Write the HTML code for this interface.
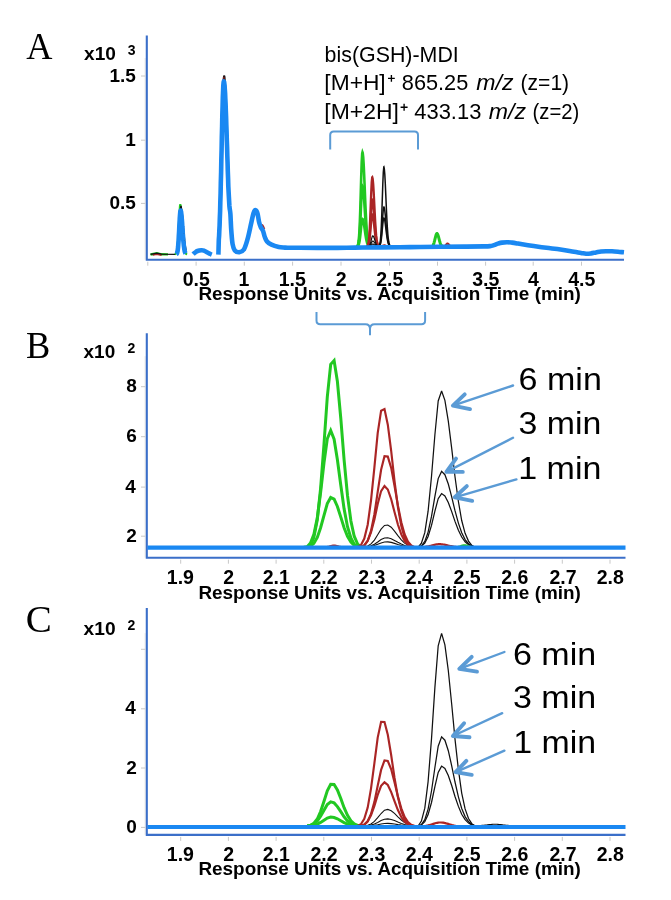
<!DOCTYPE html>
<html><head><meta charset="utf-8"><title>Chromatograms</title>
<style>html,body{margin:0;padding:0;background:#fff;width:671px;height:900px;overflow:hidden}svg{display:block;will-change:transform}</style>
</head><body>
<svg width="671" height="900" viewBox="0 0 671 900">
<rect width="671" height="900" fill="#fff"/>
<line x1="145.1" y1="58" x2="145.1" y2="259.7" stroke="#ebe8e3" stroke-width="1"/>
<path d="M146.8,35.4 V259.7 H624" fill="none" stroke="#3b6fc9" stroke-width="2.1"/>
<line x1="141" y1="76" x2="145.5" y2="76" stroke="#c8c8c8" stroke-width="1"/>
<line x1="141" y1="140.2" x2="145.5" y2="140.2" stroke="#c8c8c8" stroke-width="1"/>
<line x1="141" y1="203.4" x2="145.5" y2="203.4" stroke="#c8c8c8" stroke-width="1"/>
<text x="109.45" y="81.6" font-family="Liberation Sans" font-size="19" font-weight="bold" fill="#000">1.5</text>
<text x="125.30" y="145.8" font-family="Liberation Sans" font-size="19" font-weight="bold" fill="#000">1</text>
<text x="109.45" y="209" font-family="Liberation Sans" font-size="19" font-weight="bold" fill="#000">0.5</text>
<line x1="147.8" y1="261.7" x2="147.8" y2="265.7" stroke="#c8c8c8" stroke-width="1"/>
<line x1="196.1" y1="261.7" x2="196.1" y2="265.7" stroke="#c8c8c8" stroke-width="1"/>
<text x="182.77" y="286" font-family="Liberation Sans" font-size="19.5" font-weight="bold" fill="#000">0.5</text>
<line x1="244.3" y1="261.7" x2="244.3" y2="265.7" stroke="#c8c8c8" stroke-width="1"/>
<text x="238.60" y="286" font-family="Liberation Sans" font-size="19.5" font-weight="bold" fill="#000">1</text>
<line x1="292.6" y1="261.7" x2="292.6" y2="265.7" stroke="#c8c8c8" stroke-width="1"/>
<text x="278.77" y="286" font-family="Liberation Sans" font-size="19.5" font-weight="bold" fill="#000">1.5</text>
<line x1="341" y1="261.7" x2="341" y2="265.7" stroke="#c8c8c8" stroke-width="1"/>
<text x="335.80" y="286" font-family="Liberation Sans" font-size="19.5" font-weight="bold" fill="#000">2</text>
<line x1="389.5" y1="261.7" x2="389.5" y2="265.7" stroke="#c8c8c8" stroke-width="1"/>
<text x="376.17" y="286" font-family="Liberation Sans" font-size="19.5" font-weight="bold" fill="#000">2.5</text>
<line x1="437.5" y1="261.7" x2="437.5" y2="265.7" stroke="#c8c8c8" stroke-width="1"/>
<text x="432.30" y="286" font-family="Liberation Sans" font-size="19.5" font-weight="bold" fill="#000">3</text>
<line x1="485.6" y1="261.7" x2="485.6" y2="265.7" stroke="#c8c8c8" stroke-width="1"/>
<text x="472.27" y="286" font-family="Liberation Sans" font-size="19.5" font-weight="bold" fill="#000">3.5</text>
<line x1="533.2" y1="261.7" x2="533.2" y2="265.7" stroke="#c8c8c8" stroke-width="1"/>
<text x="528.00" y="286" font-family="Liberation Sans" font-size="19.5" font-weight="bold" fill="#000">4</text>
<line x1="581.5" y1="261.7" x2="581.5" y2="265.7" stroke="#c8c8c8" stroke-width="1"/>
<text x="568.17" y="286" font-family="Liberation Sans" font-size="19.5" font-weight="bold" fill="#000">4.5</text>
<text x="198.45" y="300.3" font-family="Liberation Sans" font-size="17.9" font-weight="bold" textLength="382.41" lengthAdjust="spacingAndGlyphs" fill="#000">Response Units vs. Acquisition Time (min)</text>
<text x="26.20" y="59.4" font-family="Liberation Serif" font-size="38.5" textLength="26.21" lengthAdjust="spacingAndGlyphs" fill="#000">A</text>
<text x="84.10" y="60.2" font-family="Liberation Sans" font-size="18.5" font-weight="bold" textLength="31.80" lengthAdjust="spacingAndGlyphs" fill="#000">x10</text>
<text x="127.70" y="54.5" font-family="Liberation Sans" font-size="14" font-weight="bold" fill="#000">3</text>
<text x="324.61" y="61.5" font-family="Liberation Sans" font-size="21.5" textLength="134.16" lengthAdjust="spacingAndGlyphs" fill="#000">bis(GSH)-MDI</text>
<text x="324.34" y="90" font-family="Liberation Sans" font-size="21.5" textLength="61.39" lengthAdjust="spacingAndGlyphs" fill="#000">[M+H]</text>
<path d="M388,78.3 H394.8 M391.4,74.9 V81.8" stroke="#000" stroke-width="1.35" fill="none"/>
<text x="401.80" y="90" font-family="Liberation Sans" font-size="21.5" textLength="66.46" lengthAdjust="spacingAndGlyphs" fill="#000">865.25</text>
<text x="476.30" y="90" font-family="Liberation Sans" font-size="21.5" font-style="italic" textLength="37.23" lengthAdjust="spacingAndGlyphs" fill="#000">m/z</text>
<text x="520.52" y="90" font-family="Liberation Sans" font-size="21.5" textLength="48.62" lengthAdjust="spacingAndGlyphs" fill="#000">(z=1)</text>
<text x="324.33" y="119.2" font-family="Liberation Sans" font-size="21.5" textLength="74.61" lengthAdjust="spacingAndGlyphs" fill="#000">[M+2H]</text>
<path d="M400.6,107.2 H407.6 M404.1,103.7 V110.8" stroke="#000" stroke-width="1.35" fill="none"/>
<text x="414.30" y="119.2" font-family="Liberation Sans" font-size="21.5" textLength="67.06" lengthAdjust="spacingAndGlyphs" fill="#000">433.13</text>
<text x="488.80" y="119.2" font-family="Liberation Sans" font-size="21.5" font-style="italic" textLength="37.23" lengthAdjust="spacingAndGlyphs" fill="#000">m/z</text>
<text x="532.56" y="119.2" font-family="Liberation Sans" font-size="21.5" textLength="46.74" lengthAdjust="spacingAndGlyphs" fill="#000">(z=2)</text>
<path d="M330.2,149.5 V135 Q330.2,131.5 333.7,131.5 H414.5 Q418,131.5 418,135 V149.5" fill="none" stroke="#5b9bd5" stroke-width="2"/>
<path d="M316.5,312 V320.5 Q316.5,324.2 320.2,324.2 H365.5 Q370,324.2 370,329 V335.2 M370,329 Q370,324.2 374.5,324.2 H421.4 Q425.1,324.2 425.1,320.5 V312" fill="none" stroke="#5b9bd5" stroke-width="2"/>
<path d="M150.5,254.5 L152,254.2 L156.8,253.2 L161.6,254.3 L168,254.4" stroke="#22c822" stroke-width="2.4" fill="none"/>
<path d="M152.7,254.9 L156.8,254 L161.6,255.1" stroke="#aa2525" stroke-width="1.8" fill="none"/>
<path d="M150.5,254.4 L156.8,253.2 L161.6,254.2 L176,254.4" stroke="#111" stroke-width="1.3" fill="none"/>
<path d="M174.9,254.3 L175.9,253.7 L176.9,250.6 L177.9,240.4 L178.9,221.9 L179.9,206 L180.3,204.2 L180.9,206.6 L181.9,219.2 L182.9,234.7 L183.9,246.1 L184.9,251.7 L185.9,253.7 L186.9,254.3 L187.1,254.4" stroke="#22c822" stroke-width="2" fill="none"/>
<path d="M180,215.4 L180.9,206.5 L181,206.5 L182,211.7 L183,222.8 L184,235.1 L185,244.6 L186,250.3" stroke="#111" stroke-width="1.6" fill="none"/>
<path d="M221.5,165.5 L222.5,117.1 L223.5,82.1 L224.1,75.6 L224.5,76.9 L225.5,91 L226.5,117.1 L227.5,149.2" stroke="#111" stroke-width="2" fill="none"/>
<path d="M221,170.8 L222,122.6 L223,85.6 L223.7,76.8 L224,77.5 L225,90.1 L226,115.1" stroke="#6a1c1c" stroke-width="1.5" fill="none"/>
<path d="M356.7,246.4 L357.2,246.1 L357.7,245.4 L358.2,243.8 L358.7,240.5 L359.2,234.7 L359.7,225.2 L360.2,211.8 L360.7,195.1 L361.2,177.4 L361.7,162.3 L362.2,153.5 L362.5,152.3 L362.7,152.8 L363.2,157.1 L363.7,165 L364.2,175.7 L364.7,187.9 L365.2,200.2 L365.7,211.6 L366.2,221.4 L366.7,229.3 L367.2,235.2 L367.7,239.5 L368.2,242.3 L368.7,244.1 L369.2,245.2 L369.7,245.8 L370.2,246.2 L370.7,246.3 L370.8,246.5" stroke="#22c822" stroke-width="2.6" fill="none"/>
<path d="M356.7,246.4 L357.2,246.2 L357.7,245.8 L358.2,244.8 L358.7,242.7 L359.2,238.9 L359.7,232.8 L360.2,224.2 L360.7,213.5 L361.2,202.1 L361.7,192.5 L362.2,186.8 L362.5,186 L362.7,186.3 L363.2,189.1 L363.7,194.2 L364.2,201.1 L364.7,208.8 L365.2,216.7 L365.7,224.1 L366.2,230.4 L366.7,235.4 L367.2,239.3 L367.7,242 L368.2,243.8 L368.7,245 L369.2,245.7 L369.7,246.1 L370.2,246.3 L370.7,246.4 L370.8,246.5" stroke="#22c822" stroke-width="2.6" fill="none"/>
<path d="M356.7,246.5 L357.2,246.4 L357.7,246.2 L358.2,245.7 L358.7,244.8 L359.2,243 L359.7,240.3 L360.2,236.4 L360.7,231.5 L361.2,226.3 L361.7,221.9 L362.2,219.4 L362.5,219 L362.7,219.1 L363.2,220.4 L363.7,222.7 L364.2,225.8 L364.7,229.4 L365.2,233 L365.7,236.3 L366.2,239.2 L366.7,241.5 L367.2,243.2 L367.7,244.4 L368.2,245.3 L368.7,245.8 L369.2,246.1 L369.7,246.3 L370.2,246.4 L370.7,246.5 L370.8,246.5" stroke="#22c822" stroke-width="2.6" fill="none"/>
<path d="M366.7,246.4 L367.2,246.2 L367.7,245.6 L368.2,244.3 L368.7,241.7 L369.2,236.9 L369.7,229.2 L370.2,218.4 L370.7,205.3 L371.2,192.2 L371.7,182 L372.2,177.4 L372.3,177.3 L372.7,178.7 L373.2,183.9 L373.7,192.1 L374.2,201.9 L374.7,212 L375.2,221.4 L375.7,229.3 L376.2,235.4 L376.7,239.7 L377.2,242.6 L377.7,244.4 L378.2,245.4 L378.7,246 L379.2,246.3 L379.7,246.5" stroke="#aa2525" stroke-width="2.3" fill="none"/>
<path d="M366.7,246.4 L367.2,246.3 L367.7,245.9 L368.2,245 L368.7,243.3 L369.2,240 L369.7,234.9 L370.2,227.6 L370.7,218.8 L371.2,210 L371.7,203.1 L372.2,200.1 L372.3,200 L372.7,201 L373.2,204.5 L373.7,209.9 L374.2,216.5 L374.7,223.3 L375.2,229.6 L375.7,234.9 L376.2,239 L376.7,242 L377.2,243.9 L377.7,245.1 L378.2,245.8 L378.7,246.2 L379.2,246.3 L379.7,246.5" stroke="#aa2525" stroke-width="2.3" fill="none"/>
<path d="M366.7,246.5 L367.2,246.4 L367.7,246.1 L368.2,245.5 L368.7,244.3 L369.2,242.1 L369.7,238.5 L370.2,233.5 L370.7,227.5 L371.2,221.4 L371.7,216.7 L372.2,214.5 L372.3,214.5 L372.7,215.2 L373.2,217.6 L373.7,221.3 L374.2,225.9 L374.7,230.6 L375.2,234.9 L375.7,238.5 L376.2,241.4 L376.7,243.4 L377.2,244.7 L377.7,245.5 L378.2,246 L378.7,246.3 L379.2,246.4 L379.7,246.5" stroke="#aa2525" stroke-width="2.3" fill="none"/>
<path d="M367.4,246.5 L367.9,246.4 L368.4,246.4 L368.9,246.1 L369.4,245.7 L369.9,244.8 L370.4,243.5 L370.9,241.7 L371.4,239.6 L371.9,237.6 L372.4,236.2 L372.8,235.8 L372.9,235.8 L373.4,236.3 L373.9,237.3 L374.4,238.7 L374.9,240.3 L375.4,241.9 L375.9,243.3 L376.4,244.4 L376.9,245.2 L377.4,245.7 L377.9,246.1 L378.4,246.3 L378.9,246.4 L379.4,246.5 L379.9,246.5 L380,246.5" stroke="#111" stroke-width="1.2" fill="none"/>
<path d="M367.4,246.5 L367.9,246.5 L368.4,246.4 L368.9,246.3 L369.4,246.1 L369.9,245.7 L370.4,245 L370.9,244 L371.4,242.9 L371.9,241.9 L372.4,241.2 L372.8,241 L372.9,241 L373.4,241.2 L373.9,241.8 L374.4,242.5 L374.9,243.3 L375.4,244.1 L375.9,244.8 L376.4,245.4 L376.9,245.8 L377.4,246.1 L377.9,246.3 L378.4,246.4 L378.9,246.4 L379.4,246.5 L379.9,246.5 L380,246.5" stroke="#111" stroke-width="1.2" fill="none"/>
<path d="M367.4,246.5 L367.9,246.5 L368.4,246.5 L368.9,246.4 L369.4,246.3 L369.9,246.1 L370.4,245.8 L370.9,245.4 L371.4,244.9 L371.9,244.4 L372.4,244.1 L372.8,244 L372.9,244 L373.4,244.1 L373.9,244.4 L374.4,244.7 L374.9,245.1 L375.4,245.4 L375.9,245.7 L376.4,246 L376.9,246.2 L377.4,246.3 L377.9,246.4 L378.4,246.5 L378.9,246.5 L379.4,246.5 L379.9,246.5 L380,246.5" stroke="#111" stroke-width="1.2" fill="none"/>
<path d="M378.8,246.5 L379.3,246.5 L379.8,246.5 L380.3,246.4 L380.8,246.4 L381.3,246.3 L381.8,246.1 L382.3,245.8 L382.8,245.5 L383.3,245.2 L383.8,245.1 L384.2,245 L384.3,245 L384.8,245.1 L385.3,245.2 L385.8,245.4 L386.3,245.6 L386.8,245.9 L387.3,246 L387.8,246.2 L388.3,246.3 L388.8,246.4 L389.3,246.4 L389.8,246.5 L390.3,246.5 L390.8,246.5 L391.3,246.5 L391.4,246.5" stroke="#aa2525" stroke-width="1.6" fill="none"/>
<path d="M378.3,246.4 L378.8,246.1 L379.3,245.5 L379.8,244 L380.3,241 L380.8,235.4 L381.3,226.6 L381.8,214.1 L382.3,199.1 L382.8,184 L383.3,172.2 L383.8,166.9 L383.9,166.8 L384.3,168.5 L384.8,174.4 L385.3,183.8 L385.8,195.1 L386.3,206.8 L386.8,217.6 L387.3,226.7 L387.8,233.7 L388.3,238.7 L388.8,242 L389.3,244.1 L389.8,245.3 L390.3,245.9 L390.8,246.2 L391.3,246.5" stroke="#111" stroke-width="1.5" fill="none"/>
<path d="M378.3,246.4 L378.8,246.3 L379.3,246 L379.8,245.3 L380.3,243.8 L380.8,241 L381.3,236.6 L381.8,230.4 L382.3,223 L382.8,215.5 L383.3,209.7 L383.8,207.1 L383.9,207 L384.3,207.8 L384.8,210.8 L385.3,215.4 L385.8,221 L386.3,226.8 L386.8,232.2 L387.3,236.7 L387.8,240.2 L388.3,242.6 L388.8,244.3 L389.3,245.3 L389.8,245.9 L390.3,246.2 L390.8,246.4 L391.3,246.5" stroke="#111" stroke-width="1.5" fill="none"/>
<path d="M378.3,246.5 L378.8,246.4 L379.3,246.1 L379.8,245.6 L380.3,244.5 L380.8,242.5 L381.3,239.4 L381.8,234.9 L382.3,229.5 L382.8,224.1 L383.3,219.9 L383.8,218 L383.9,218 L384.3,218.6 L384.8,220.7 L385.3,224.1 L385.8,228.1 L386.3,232.3 L386.8,236.2 L387.3,239.4 L387.8,241.9 L388.3,243.7 L388.8,244.9 L389.3,245.6 L389.8,246.1 L390.3,246.3 L390.8,246.4 L391.3,246.5" stroke="#111" stroke-width="1.5" fill="none"/>
<path d="M430.1,247 L430.6,246.9 L431.1,246.9 L431.6,246.7 L432.1,246.5 L432.6,246 L433.1,245.3 L433.6,244.1 L434.1,242.6 L434.6,240.7 L435.1,238.6 L435.6,236.6 L436.1,234.8 L436.6,233.8 L436.9,233.6 L437.1,233.6 L437.6,234.2 L438.1,235.5 L438.6,237.2 L439.1,239.1 L439.6,241 L440.1,242.7 L440.6,244.1 L441.1,245.1 L441.6,245.9 L442.1,246.3 L442.6,246.6 L443.1,246.8 L443.6,246.9 L444.1,247 L444.5,247" stroke="#22c822" stroke-width="3" fill="none"/>
<path d="M441.7,247 L442.2,247 L442.7,247 L443.2,246.9 L443.7,246.8 L444.2,246.6 L444.7,246.2 L445.2,245.7 L445.7,245.1 L446.2,244.5 L446.7,244 L447.2,243.6 L447.5,243.6 L447.7,243.6 L448.2,243.9 L448.7,244.3 L449.2,244.9 L449.7,245.4 L450.2,245.9 L450.7,246.3 L451.2,246.6 L451.7,246.8 L452.2,246.9 L452.7,247 L453.2,247 L453.7,247 L454,247" stroke="#aa2525" stroke-width="2" fill="none"/>
<path d="M262,224.5 Q263.5,226.5 264.3,229" stroke="#aa2525" stroke-width="2" fill="none"/>
<path d="M176.3,254.2 L176.6,254 L176.8,253.7 L177.1,253.1 L177.3,252.3 L177.6,251.1 L177.8,249.4 L178.1,247.1 L178.3,244.2 L178.6,240.6 L178.8,236.4 L179.1,231.7 L179.3,226.8 L179.6,222 L179.8,217.6 L180.1,214 L180.3,211.6 L180.6,210.5 L180.8,210.8 L181.1,211.9 L181.3,213.7 L181.6,216.2 L181.8,219.3 L182.1,222.7 L182.3,226.3 L182.6,230 L182.8,233.7 L183.1,237.1 L183.3,240.2 L183.6,243 L183.8,245.4 L184.1,247.5 L184.3,249.2 L184.6,250.5 L184.8,251.6 L185.1,252.4 L185.3,253 L185.6,253.5" stroke="#1a88f2" stroke-width="4.6" fill="none" stroke-linejoin="round" stroke-linecap="butt"/>
<path d="M193.1,254.1 C193.4,253.8 194.3,253.1 195,252.6 C195.7,252.1 196.4,251.4 197.5,251 C198.6,250.6 200.3,250.3 201.4,250.2 C202.5,250.1 203.2,250.3 204,250.6 C204.8,250.9 205.7,251.6 206.5,252 C207.3,252.4 208.1,252.9 209,253.3 C209.9,253.7 211.3,254.4 211.8,254.6" stroke="#1a88f2" stroke-width="4.6" fill="none" stroke-linejoin="round" stroke-linecap="butt"/>
<path d="M218.4,254.6 L218.8,239.8 L219.1,235.8 L219.3,231 L219.6,225.3 L219.8,218.8 L220.1,211.3 L220.3,202.8 L220.6,193.4 L220.8,183.3 L221.1,172.4 L221.3,161.1 L221.6,149.5 L221.8,137.9 L222.1,126.6 L222.3,115.9 L222.6,106.1 L222.8,97.7 L223.1,90.7 L223.3,85.6 L223.6,82.5 L223.8,81.4 L224.1,81.9 L224.3,83.4 L224.6,85.8 L224.8,89.2 L225.1,93.4 L225.3,98.4 L225.6,104.1 L225.8,110.4 L226.1,117.3 L226.3,124.6 L226.6,132.1 L226.8,140 L227.1,147.9 L227.3,155.8 L227.6,163.7 L227.8,171.4 L228.1,178.9 L228.3,186.1 L228.3,186.1 C228.5,189.4 229.1,201.4 229.4,206 C229.8,210.6 230.1,209.9 230.4,214 C230.7,218.1 230.9,225.8 231.3,230.8 C231.7,235.8 232,240.9 232.6,244.2 C233.2,247.5 233.7,249.2 234.8,250.5 C235.9,251.8 237.8,252.3 239.3,252.2 C240.8,252 242.5,251.7 243.8,249.6 C245.2,247.5 246.2,243.9 247.4,239.7 C248.6,235.5 249.9,229 250.9,224.5 C251.9,220 252.8,215.3 253.6,212.9 C254.4,210.5 255.2,210 255.9,210.2 C256.6,210.3 257.1,211.9 257.6,213.8 C258.1,215.7 258.5,219.6 259,221.8 C259.5,224 260.1,225.7 260.8,227.2 C261.5,228.7 262.3,229.2 263,230.8 C263.7,232.4 264.1,235.2 264.8,237 C265.5,238.8 265.9,240.2 267,241.5 C268.1,242.8 269.6,243.7 271.5,244.6 C273.4,245.5 276.4,246.4 278.7,246.9 C280.9,247.4 282.8,247.4 285,247.6 C287.2,247.8 289.5,247.8 292,247.8 C294.5,247.8 293.7,247.8 300,247.8 C306.3,247.8 320.8,247.9 330,247.9 C339.2,247.9 346.7,247.7 355,247.6 C363.3,247.5 370.8,247.5 380,247.4 C389.2,247.3 400,247.2 410,247.1 C420,247 430.8,246.9 440,246.8 C449.2,246.7 457.7,246.7 465,246.6 C472.3,246.5 479.8,246.5 484,246.4 C488.2,246.3 488.3,246.3 490,246.1 C491.7,245.9 492.7,245.5 494,245.1 C495.3,244.7 496.7,244 498,243.6 C499.3,243.2 500.5,242.8 502,242.6 C503.5,242.4 505.3,242.2 507,242.2 C508.7,242.2 510.2,242.4 512,242.6 C513.8,242.8 515.3,243.1 518,243.6 C520.7,244.1 524.3,244.7 528,245.3 C531.7,245.9 536,246.5 540,247 C544,247.5 548.3,248.1 552,248.5 C555.7,248.9 558.3,249.2 562,249.7 C565.7,250.2 570.8,251.2 574,251.7 C577.2,252.2 579,252.6 581,252.9 C583,253.2 584.3,253.6 586,253.7 C587.7,253.8 589.3,253.6 591,253.4 C592.7,253.2 594.3,252.7 596,252.4 C597.7,252.1 599.3,251.7 601,251.5 C602.7,251.3 604.2,251.2 606,251.2 C607.8,251.2 610,251.2 612,251.3 C614,251.4 616,251.6 618,251.8 C620,252 623,252.2 624,252.3" stroke="#1a88f2" stroke-width="4.6" fill="none" stroke-linejoin="round" stroke-linecap="butt"/>
<line x1="145.1" y1="356.2" x2="145.1" y2="557.7" stroke="#ebe8e3" stroke-width="1"/>
<path d="M146.8,333.3 V557.7 H625.5" fill="none" stroke="#3b6fc9" stroke-width="2.1"/>
<line x1="141" y1="386.7" x2="145.5" y2="386.7" stroke="#c8c8c8" stroke-width="1"/>
<line x1="141" y1="436.7" x2="145.5" y2="436.7" stroke="#c8c8c8" stroke-width="1"/>
<line x1="141" y1="487.1" x2="145.5" y2="487.1" stroke="#c8c8c8" stroke-width="1"/>
<line x1="141" y1="536.2" x2="145.5" y2="536.2" stroke="#c8c8c8" stroke-width="1"/>
<text x="126.30" y="392.3" font-family="Liberation Sans" font-size="19" font-weight="bold" fill="#000">8</text>
<text x="126.30" y="442.3" font-family="Liberation Sans" font-size="19" font-weight="bold" fill="#000">6</text>
<text x="125.30" y="492.7" font-family="Liberation Sans" font-size="19" font-weight="bold" fill="#000">4</text>
<text x="126.30" y="541.8" font-family="Liberation Sans" font-size="19" font-weight="bold" fill="#000">2</text>
<line x1="180.7" y1="559.7" x2="180.7" y2="563.7" stroke="#c8c8c8" stroke-width="1"/>
<text x="166.87" y="584" font-family="Liberation Sans" font-size="19.5" font-weight="bold" fill="#000">1.9</text>
<line x1="228.4" y1="559.7" x2="228.4" y2="563.7" stroke="#c8c8c8" stroke-width="1"/>
<text x="223.20" y="584" font-family="Liberation Sans" font-size="19.5" font-weight="bold" fill="#000">2</text>
<line x1="276.1" y1="559.7" x2="276.1" y2="563.7" stroke="#c8c8c8" stroke-width="1"/>
<text x="262.77" y="584" font-family="Liberation Sans" font-size="19.5" font-weight="bold" fill="#000">2.1</text>
<line x1="323.8" y1="559.7" x2="323.8" y2="563.7" stroke="#c8c8c8" stroke-width="1"/>
<text x="310.47" y="584" font-family="Liberation Sans" font-size="19.5" font-weight="bold" fill="#000">2.2</text>
<line x1="371.5" y1="559.7" x2="371.5" y2="563.7" stroke="#c8c8c8" stroke-width="1"/>
<text x="358.17" y="584" font-family="Liberation Sans" font-size="19.5" font-weight="bold" fill="#000">2.3</text>
<line x1="419.2" y1="559.7" x2="419.2" y2="563.7" stroke="#c8c8c8" stroke-width="1"/>
<text x="405.87" y="584" font-family="Liberation Sans" font-size="19.5" font-weight="bold" fill="#000">2.4</text>
<line x1="466.9" y1="559.7" x2="466.9" y2="563.7" stroke="#c8c8c8" stroke-width="1"/>
<text x="453.57" y="584" font-family="Liberation Sans" font-size="19.5" font-weight="bold" fill="#000">2.5</text>
<line x1="514.6" y1="559.7" x2="514.6" y2="563.7" stroke="#c8c8c8" stroke-width="1"/>
<text x="501.27" y="584" font-family="Liberation Sans" font-size="19.5" font-weight="bold" fill="#000">2.6</text>
<line x1="562.3" y1="559.7" x2="562.3" y2="563.7" stroke="#c8c8c8" stroke-width="1"/>
<text x="549.47" y="584" font-family="Liberation Sans" font-size="19.5" font-weight="bold" fill="#000">2.7</text>
<line x1="610" y1="559.7" x2="610" y2="563.7" stroke="#c8c8c8" stroke-width="1"/>
<text x="596.67" y="584" font-family="Liberation Sans" font-size="19.5" font-weight="bold" fill="#000">2.8</text>
<text x="198.45" y="598.5" font-family="Liberation Sans" font-size="17.9" font-weight="bold" textLength="382.41" lengthAdjust="spacingAndGlyphs" fill="#000">Response Units vs. Acquisition Time (min)</text>
<text x="25.93" y="357.8" font-family="Liberation Serif" font-size="37.5" textLength="24.25" lengthAdjust="spacingAndGlyphs" fill="#000">B</text>
<text x="83.60" y="358.4" font-family="Liberation Sans" font-size="18.5" font-weight="bold" textLength="31.60" lengthAdjust="spacingAndGlyphs" fill="#000">x10</text>
<text x="127.40" y="352.5" font-family="Liberation Sans" font-size="14" font-weight="bold" fill="#000">2</text>
<path d="M307.2,547.2 L310.5,545.2 L313.9,537.3 L317.3,519.7 L320.6,488.3 L324,444 L327.3,396.8 L330.7,364.3 L334.1,360.5 L337.4,381.5 L340.8,418.5 L344.1,459.8 L347.5,495.5 L350.9,521 L354.2,536.2 L357.6,544 L360.9,547.2" stroke="#22c822" stroke-width="3" fill="none" stroke-linejoin="miter" stroke-miterlimit="3"/>
<path d="M303.8,547.2 L307.2,546.8 L310.5,543.1 L313.9,534.4 L317.3,517.9 L320.6,492.6 L324,462.9 L327.3,438.8 L330.7,430.5 L334.1,439.2 L337.4,459.7 L340.8,485.2 L344.1,508.9 L347.5,526.7 L350.9,538 L354.2,544.1 L357.6,546.9 L360.9,547.2" stroke="#22c822" stroke-width="3" fill="none" stroke-linejoin="miter" stroke-miterlimit="3"/>
<path d="M307.2,547.2 L310.5,546.1 L313.9,543.3 L317.3,537.4 L320.6,527.7 L324,515.3 L327.3,503.6 L330.7,497.5 L334.1,499.1 L337.4,506.5 L340.8,517.1 L344.1,527.7 L347.5,536.3 L350.9,542 L354.2,545.2 L357.6,546.8 L360.9,547.2" stroke="#22c822" stroke-width="3" fill="none" stroke-linejoin="miter" stroke-miterlimit="3"/>
<path d="M360.9,547.2 L364.3,547 L367.7,546 L371,543.9 L374.4,540.1 L377.7,534.8 L381.1,529.2 L384.5,525.4 L387.8,525 L391.2,527.2 L394.5,531.2 L397.9,535.7 L401.3,539.9 L404.6,543.1 L408,545.2 L411.3,546.4 L414.7,547 L418.1,547.2" stroke="#111" stroke-width="1.1" fill="none" stroke-linejoin="miter" stroke-miterlimit="3"/>
<path d="M360.9,547.2 L364.3,547.1 L367.7,546.7 L371,545.8 L374.4,544.2 L377.7,542 L381.1,539.6 L384.5,538 L387.8,537.8 L391.2,538.7 L394.5,540.4 L397.9,542.3 L401.3,544.1 L404.6,545.5 L408,546.4 L411.3,546.9 L414.7,547.1 L418.1,547.2" stroke="#111" stroke-width="1.1" fill="none" stroke-linejoin="miter" stroke-miterlimit="3"/>
<path d="M360.9,547.2 L364.3,547.1 L367.7,546.9 L371,546.4 L374.4,545.5 L377.7,544.2 L381.1,542.9 L384.5,542 L387.8,541.9 L391.2,542.4 L394.5,543.4 L397.9,544.5 L401.3,545.5 L404.6,546.2 L408,546.7 L411.3,547 L414.7,547.2 L418.1,547.2" stroke="#111" stroke-width="1.1" fill="none" stroke-linejoin="miter" stroke-miterlimit="3"/>
<path d="M357.6,547.2 L360.9,545.2 L364.3,538.6 L367.7,524.7 L371,500.5 L374.4,467.4 L377.7,433.2 L381.1,410.7 L384.5,409.1 L387.8,424.7 L391.2,451.2 L394.5,480.9 L397.9,507 L401.3,526 L404.6,537.8 L408,544.1 L411.3,547 L414.7,547.2" stroke="#aa2525" stroke-width="2.15" fill="none" stroke-linejoin="miter" stroke-miterlimit="3"/>
<path d="M360.9,547.2 L364.3,545.6 L367.7,540.8 L371,530.9 L374.4,514.2 L377.7,491.9 L381.1,469.8 L384.5,456.2 L387.8,456.6 L391.2,467.9 L394.5,485.9 L397.9,505.4 L401.3,522.2 L404.6,534.3 L408,541.6 L411.3,545.4 L414.7,547.2" stroke="#aa2525" stroke-width="2.15" fill="none" stroke-linejoin="miter" stroke-miterlimit="3"/>
<path d="M357.6,547.2 L360.9,547 L364.3,545.1 L367.7,540.7 L371,532.4 L374.4,519.5 L377.7,504.1 L381.1,491.1 L384.5,485.9 L387.8,489.5 L391.2,499.2 L394.5,512 L397.9,524.5 L401.3,534.4 L404.6,541 L408,544.8 L411.3,546.6 L414.7,547.2" stroke="#aa2525" stroke-width="2.15" fill="none" stroke-linejoin="miter" stroke-miterlimit="3"/>
<path d="M418.1,547.2 L421.4,543.2 L424.8,532.7 L428.1,511.2 L431.5,476.5 L434.9,434.8 L438.2,401 L441.6,391 L444.9,400.3 L448.3,421.1 L451.7,448.4 L455,476.7 L458.4,501.5 L461.7,520.5 L465.1,533.3 L468.5,541.1 L471.8,545.4 L475.2,547.2" stroke="#111" stroke-width="1.25" fill="none" stroke-linejoin="miter" stroke-miterlimit="3"/>
<path d="M418.1,547.2 L421.4,545.8 L424.8,541.4 L428.1,532.1 L431.5,516.4 L434.9,496.3 L438.2,478.6 L441.6,471.4 L444.9,474.7 L448.3,484 L451.7,496.8 L455,510.7 L458.4,523.1 L461.7,532.8 L465.1,539.6 L468.5,543.7 L471.8,546 L475.2,547.2 L478.5,547.2" stroke="#111" stroke-width="1.25" fill="none" stroke-linejoin="miter" stroke-miterlimit="3"/>
<path d="M418.1,547.2 L421.4,546.2 L424.8,543.1 L428.1,536.5 L431.5,525.4 L434.9,511.2 L438.2,498.7 L441.6,493.6 L444.9,496 L448.3,502.5 L451.7,511.6 L455,521.4 L458.4,530.2 L461.7,537 L465.1,541.8 L468.5,544.7 L471.8,546.4 L475.2,547.2 L478.5,547.2" stroke="#111" stroke-width="1.25" fill="none" stroke-linejoin="miter" stroke-miterlimit="3"/>
<path d="M415.4,547.6 L416.4,547.6 L417.4,547.6 L418.4,547.5 L419.4,547.5 L420.4,547.4 L421.4,547.4 L422.4,547.3 L423.4,547.2 L424.4,547 L425.4,546.9 L426.4,546.7 L427.4,546.5 L428.4,546.3 L429.4,546.1 L430.4,545.8 L431.4,545.6 L432.4,545.3 L433.4,545 L434.4,544.8 L435.4,544.6 L436.4,544.4 L437.4,544.3 L438.4,544.2 L439.4,544.2 L439.4,544.2 L440.4,544.2 L441.4,544.3 L442.4,544.4 L443.4,544.5 L444.4,544.7 L445.4,544.9 L446.4,545.1 L447.4,545.3 L448.4,545.6 L449.4,545.8 L450.4,546 L451.4,546.2 L452.4,546.4 L453.4,546.6 L454.4,546.8 L455.4,546.9 L456.4,547.1 L457.4,547.2 L458.4,547.3 L459.4,547.3 L460.4,547.4 L461.4,547.5 L462.4,547.5 L463.4,547.5 L464.4,547.6 L465.4,547.6 L466.4,547.6" stroke="#aa2525" stroke-width="2.2" fill="none"/>
<path d="M319,547.6 L320,547.6 L321,547.5 L322,547.5 L323,547.4 L324,547.3 L325,547.2 L326,547 L327,546.8 L328,546.5 L329,546.3 L330,546 L331,545.8 L332,545.6 L333,545.4 L334,545.4 L334,545.4 L335,545.4 L336,545.6 L337,545.8 L338,546 L339,546.3 L340,546.5 L341,546.8 L342,547 L343,547.2 L344,547.3 L345,547.4 L346,547.5 L347,547.5 L348,547.6 L349,547.6" stroke="#aa2525" stroke-width="1.6" fill="none"/>
<path d="M452.5,547.6 L453.5,547.6 L454.5,547.5 L455.5,547.4 L456.5,547.3 L457.5,547.1 L458.5,546.8 L459.5,546.5 L460.5,546.2 L461.5,545.8 L462.5,545.5 L463.5,545.3 L464.5,545.2 L464.5,545.2 L465.5,545.3 L466.5,545.5 L467.5,545.8 L468.5,546.2 L469.5,546.5 L470.5,546.8 L471.5,547.1 L472.5,547.3 L473.5,547.4 L474.5,547.5 L475.5,547.6 L476.5,547.6" stroke="#22c822" stroke-width="2" fill="none"/>
<path d="M147.5,547.6 H625.5" stroke="#1a88f2" stroke-width="4.1" fill="none"/>
<path d="M513,385.5 L452.9,405.6" stroke="#5b9bd5" stroke-width="2.4" fill="none" stroke-linecap="round"/>
<path d="M464.7,394.3 L452.9,405.6 L470,409.1" stroke="#5b9bd5" stroke-width="3.9" fill="none" stroke-linecap="round" stroke-linejoin="round"/>
<path d="M452.9,405.6 L457.9,400.9 L460.1,407.1 Z" fill="#5b9bd5"/>
<path d="M513,437.8 L446.4,471.9" stroke="#5b9bd5" stroke-width="2.4" fill="none" stroke-linecap="round"/>
<path d="M456,458.6 L446.4,471.9 L462.8,471.9" stroke="#5b9bd5" stroke-width="3.9" fill="none" stroke-linecap="round" stroke-linejoin="round"/>
<path d="M446.4,471.9 L450.4,466.3 L453.3,471.9 Z" fill="#5b9bd5"/>
<path d="M516.4,479.4 L454.8,497.3" stroke="#5b9bd5" stroke-width="2.4" fill="none" stroke-linecap="round"/>
<path d="M466.8,486.1 L454.8,497.3 L472.2,500.8" stroke="#5b9bd5" stroke-width="3.9" fill="none" stroke-linecap="round" stroke-linejoin="round"/>
<path d="M454.8,497.3 L459.8,492.6 L462.1,498.8 Z" fill="#5b9bd5"/>
<text x="518.62" y="390.2" font-family="Liberation Sans" font-size="31.5" textLength="83.22" lengthAdjust="spacingAndGlyphs" fill="#000">6 min</text>
<text x="518.62" y="433.7" font-family="Liberation Sans" font-size="31.5" textLength="82.81" lengthAdjust="spacingAndGlyphs" fill="#000">3 min</text>
<text x="518.24" y="478.5" font-family="Liberation Sans" font-size="31.5" textLength="83.20" lengthAdjust="spacingAndGlyphs" fill="#000">1 min</text>
<line x1="145.1" y1="633.1" x2="145.1" y2="834.9" stroke="#ebe8e3" stroke-width="1"/>
<path d="M146.8,608 V834.9 H625.5" fill="none" stroke="#3b6fc9" stroke-width="2.1"/>
<line x1="141" y1="649.3" x2="145.5" y2="649.3" stroke="#c8c8c8" stroke-width="1"/>
<line x1="141" y1="708.8" x2="145.5" y2="708.8" stroke="#c8c8c8" stroke-width="1"/>
<line x1="141" y1="768" x2="145.5" y2="768" stroke="#c8c8c8" stroke-width="1"/>
<line x1="141" y1="827.4" x2="145.5" y2="827.4" stroke="#c8c8c8" stroke-width="1"/>
<text x="125.30" y="714.4" font-family="Liberation Sans" font-size="19" font-weight="bold" fill="#000">4</text>
<text x="126.30" y="773.6" font-family="Liberation Sans" font-size="19" font-weight="bold" fill="#000">2</text>
<text x="126.30" y="833" font-family="Liberation Sans" font-size="19" font-weight="bold" fill="#000">0</text>
<line x1="180.7" y1="836.9" x2="180.7" y2="840.9" stroke="#c8c8c8" stroke-width="1"/>
<text x="166.87" y="861" font-family="Liberation Sans" font-size="19.5" font-weight="bold" fill="#000">1.9</text>
<line x1="228.4" y1="836.9" x2="228.4" y2="840.9" stroke="#c8c8c8" stroke-width="1"/>
<text x="223.20" y="861" font-family="Liberation Sans" font-size="19.5" font-weight="bold" fill="#000">2</text>
<line x1="276.1" y1="836.9" x2="276.1" y2="840.9" stroke="#c8c8c8" stroke-width="1"/>
<text x="262.77" y="861" font-family="Liberation Sans" font-size="19.5" font-weight="bold" fill="#000">2.1</text>
<line x1="323.8" y1="836.9" x2="323.8" y2="840.9" stroke="#c8c8c8" stroke-width="1"/>
<text x="310.47" y="861" font-family="Liberation Sans" font-size="19.5" font-weight="bold" fill="#000">2.2</text>
<line x1="371.5" y1="836.9" x2="371.5" y2="840.9" stroke="#c8c8c8" stroke-width="1"/>
<text x="358.17" y="861" font-family="Liberation Sans" font-size="19.5" font-weight="bold" fill="#000">2.3</text>
<line x1="419.2" y1="836.9" x2="419.2" y2="840.9" stroke="#c8c8c8" stroke-width="1"/>
<text x="405.87" y="861" font-family="Liberation Sans" font-size="19.5" font-weight="bold" fill="#000">2.4</text>
<line x1="466.9" y1="836.9" x2="466.9" y2="840.9" stroke="#c8c8c8" stroke-width="1"/>
<text x="453.57" y="861" font-family="Liberation Sans" font-size="19.5" font-weight="bold" fill="#000">2.5</text>
<line x1="514.6" y1="836.9" x2="514.6" y2="840.9" stroke="#c8c8c8" stroke-width="1"/>
<text x="501.27" y="861" font-family="Liberation Sans" font-size="19.5" font-weight="bold" fill="#000">2.6</text>
<line x1="562.3" y1="836.9" x2="562.3" y2="840.9" stroke="#c8c8c8" stroke-width="1"/>
<text x="549.47" y="861" font-family="Liberation Sans" font-size="19.5" font-weight="bold" fill="#000">2.7</text>
<line x1="610" y1="836.9" x2="610" y2="840.9" stroke="#c8c8c8" stroke-width="1"/>
<text x="596.67" y="861" font-family="Liberation Sans" font-size="19.5" font-weight="bold" fill="#000">2.8</text>
<text x="198.45" y="875" font-family="Liberation Sans" font-size="17.9" font-weight="bold" textLength="382.41" lengthAdjust="spacingAndGlyphs" fill="#000">Response Units vs. Acquisition Time (min)</text>
<text x="25.86" y="632" font-family="Liberation Serif" font-size="37.5" textLength="26.04" lengthAdjust="spacingAndGlyphs" fill="#000">C</text>
<text x="83.60" y="635.3" font-family="Liberation Sans" font-size="18.5" font-weight="bold" textLength="32.00" lengthAdjust="spacingAndGlyphs" fill="#000">x10</text>
<text x="127.40" y="629.6" font-family="Liberation Sans" font-size="14" font-weight="bold" fill="#000">2</text>
<path d="M307.2,826 L310.5,825.4 L313.9,823.3 L317.3,819 L320.6,811.5 L324,801.2 L327.3,790.9 L330.7,784.4 L334.1,784.5 L337.4,789.9 L340.8,798.5 L344.1,807.7 L347.5,815.4 L350.9,820.8 L354.2,823.9 L357.6,825.4 L360.9,826" stroke="#22c822" stroke-width="3" fill="none" stroke-linejoin="miter" stroke-miterlimit="3"/>
<path d="M307.2,826 L310.5,825.4 L313.9,824 L317.3,821 L320.6,816.2 L324,810.2 L327.3,804.6 L330.7,801.9 L334.1,802.9 L337.4,806.6 L340.8,811.7 L344.1,816.8 L347.5,820.9 L350.9,823.6 L354.2,825.1 L357.6,825.8 L360.9,826" stroke="#22c822" stroke-width="3" fill="none" stroke-linejoin="miter" stroke-miterlimit="3"/>
<path d="M307.2,826 L310.5,825.8 L313.9,825.3 L317.3,824.2 L320.6,822.4 L324,820.2 L327.3,818.1 L330.7,817.1 L334.1,817.5 L337.4,818.8 L340.8,820.7 L344.1,822.6 L347.5,824.1 L350.9,825.1 L354.2,825.7 L357.6,825.9 L360.9,826" stroke="#22c822" stroke-width="3" fill="none" stroke-linejoin="miter" stroke-miterlimit="3"/>
<path d="M360.9,826 L364.3,825.9 L367.7,825.3 L371,824 L374.4,821.4 L377.7,817.7 L381.1,813.5 L384.5,810.2 L387.8,809.4 L391.2,810.7 L394.5,813.4 L397.9,816.8 L401.3,820 L404.6,822.6 L408,824.3 L411.3,825.3 L414.7,825.8 L418.1,826" stroke="#111" stroke-width="1.1" fill="none" stroke-linejoin="miter" stroke-miterlimit="3"/>
<path d="M360.9,826 L364.3,826 L367.7,825.7 L371,825.1 L374.4,824 L377.7,822.4 L381.1,820.6 L384.5,819.3 L387.8,818.9 L391.2,819.5 L394.5,820.6 L397.9,822.1 L401.3,823.4 L404.6,824.5 L408,825.3 L411.3,825.7 L414.7,825.9 L418.1,826" stroke="#111" stroke-width="1.1" fill="none" stroke-linejoin="miter" stroke-miterlimit="3"/>
<path d="M360.9,826 L364.3,826 L367.7,825.9 L371,825.7 L374.4,825.3 L377.7,824.7 L381.1,824 L384.5,823.5 L387.8,823.4 L391.2,823.6 L394.5,824 L397.9,824.6 L401.3,825.1 L404.6,825.5 L408,825.7 L411.3,825.9 L414.7,826 L418.1,826" stroke="#111" stroke-width="1.1" fill="none" stroke-linejoin="miter" stroke-miterlimit="3"/>
<path d="M357.6,826 L360.9,824.2 L364.3,818.8 L367.7,807.6 L371,788.6 L374.4,763.1 L377.7,737.6 L381.1,721.8 L384.5,722 L387.8,734.7 L391.2,755.3 L394.5,777.7 L397.9,797.1 L401.3,811 L404.6,819.5 L408,823.9 L411.3,826 L414.7,826" stroke="#aa2525" stroke-width="2.15" fill="none" stroke-linejoin="miter" stroke-miterlimit="3"/>
<path d="M360.9,826 L364.3,824.8 L367.7,821.3 L371,814 L374.4,801.9 L377.7,785.7 L381.1,769.9 L384.5,760.4 L387.8,761 L391.2,769.3 L394.5,782.3 L397.9,796.4 L401.3,808.4 L404.6,816.9 L408,822.1 L411.3,824.8 L414.7,826" stroke="#aa2525" stroke-width="2.15" fill="none" stroke-linejoin="miter" stroke-miterlimit="3"/>
<path d="M357.6,826 L360.9,825.8 L364.3,824.5 L367.7,821.3 L371,815.2 L374.4,805.9 L377.7,795 L381.1,785.8 L384.5,782.3 L387.8,785 L391.2,792.1 L394.5,801.2 L397.9,810.1 L401.3,817 L404.6,821.7 L408,824.3 L411.3,825.6 L414.7,826" stroke="#aa2525" stroke-width="2.15" fill="none" stroke-linejoin="miter" stroke-miterlimit="3"/>
<path d="M418.1,826 L421.4,821.1 L424.8,808.2 L428.1,781.6 L431.5,738.9 L434.9,687.4 L438.2,645.8 L441.6,633.4 L444.9,644.8 L448.3,670.5 L451.7,704.2 L455,739.1 L458.4,769.7 L461.7,793.1 L465.1,808.9 L468.5,818.5 L471.8,823.7 L475.2,826" stroke="#111" stroke-width="1.25" fill="none" stroke-linejoin="miter" stroke-miterlimit="3"/>
<path d="M418.1,826 L421.4,824.5 L424.8,819.7 L428.1,809.1 L431.5,791 L434.9,767.5 L438.2,746.2 L441.6,736.8 L444.9,740.2 L448.3,750.7 L451.7,765.8 L455,782 L458.4,796.8 L461.7,808.5 L465.1,816.6 L468.5,821.7 L471.8,824.5 L475.2,825.9 L478.5,826" stroke="#111" stroke-width="1.25" fill="none" stroke-linejoin="miter" stroke-miterlimit="3"/>
<path d="M418.1,826 L421.4,825 L424.8,821.7 L428.1,814.6 L431.5,802.5 L434.9,786.7 L438.2,772.4 L441.6,766.1 L444.9,768.4 L448.3,775.5 L451.7,785.5 L455,796.5 L458.4,806.4 L461.7,814.3 L465.1,819.7 L468.5,823.1 L471.8,825 L475.2,826 L478.5,826" stroke="#111" stroke-width="1.25" fill="none" stroke-linejoin="miter" stroke-miterlimit="3"/>
<path d="M416.2,826.8 L417.2,826.8 L418.2,826.7 L419.2,826.7 L420.2,826.7 L421.2,826.6 L422.2,826.5 L423.2,826.4 L424.2,826.3 L425.2,826.1 L426.2,825.9 L427.2,825.7 L428.2,825.4 L429.2,825.2 L430.2,824.9 L431.2,824.5 L432.2,824.2 L433.2,823.9 L434.2,823.6 L435.2,823.3 L436.2,823 L437.2,822.8 L438.2,822.6 L439.2,822.5 L440.2,822.5 L440.2,822.5 L441.2,822.5 L442.2,822.6 L443.2,822.7 L444.2,822.9 L445.2,823.1 L446.2,823.4 L447.2,823.6 L448.2,823.9 L449.2,824.2 L450.2,824.5 L451.2,824.8 L452.2,825.1 L453.2,825.3 L454.2,825.6 L455.2,825.8 L456.2,826 L457.2,826.1 L458.2,826.3 L459.2,826.4 L460.2,826.5 L461.2,826.6 L462.2,826.6 L463.2,826.7 L464.2,826.7 L465.2,826.8 L466.2,826.8 L467.2,826.8" stroke="#aa2525" stroke-width="2.2" fill="none"/>
<path d="M468,826 L469,826 L470,826 L471,826 L472,826 L473,825.9 L474,825.9 L475,825.9 L476,825.8 L477,825.8 L478,825.7 L479,825.7 L480,825.6 L481,825.5 L482,825.4 L483,825.3 L484,825.2 L485,825.1 L486,825 L487,824.9 L488,824.7 L489,824.6 L490,824.5 L491,824.5 L492,824.4 L493,824.3 L494,824.3 L495,824.3 L495,824.3 L496,824.3 L497,824.3 L498,824.4 L499,824.5 L500,824.5 L501,824.6 L502,824.7 L503,824.9 L504,825 L505,825.1 L506,825.2 L507,825.3 L508,825.4 L509,825.5 L510,825.6 L511,825.7 L512,825.7 L513,825.8 L514,825.8 L515,825.9 L516,825.9 L517,825.9 L518,826 L519,826 L520,826 L521,826 L522,826" stroke="#111" stroke-width="1.1" fill="none"/>
<path d="M147.5,827 H625.5" stroke="#1a88f2" stroke-width="4.1" fill="none"/>
<path d="M504.4,652 L459.3,668.9" stroke="#5b9bd5" stroke-width="2.4" fill="none" stroke-linecap="round"/>
<path d="M471.7,656.8 L459.3,668.9 L477,671.6" stroke="#5b9bd5" stroke-width="3.9" fill="none" stroke-linecap="round" stroke-linejoin="round"/>
<path d="M459.3,668.9 L464.5,663.8 L466.7,670 Z" fill="#5b9bd5"/>
<path d="M502.2,713.2 L452.9,736" stroke="#5b9bd5" stroke-width="2.4" fill="none" stroke-linecap="round"/>
<path d="M464.1,723.3 L452.9,736 L469.5,737.3" stroke="#5b9bd5" stroke-width="3.9" fill="none" stroke-linecap="round" stroke-linejoin="round"/>
<path d="M452.9,736 L457.6,730.7 L459.9,736.5 Z" fill="#5b9bd5"/>
<path d="M504.4,750.7 L455.6,772.2" stroke="#5b9bd5" stroke-width="2.4" fill="none" stroke-linecap="round"/>
<path d="M466.3,760.9 L455.6,772.2 L471.7,774.9" stroke="#5b9bd5" stroke-width="3.9" fill="none" stroke-linecap="round" stroke-linejoin="round"/>
<path d="M455.6,772.2 L460.1,767.5 L462.4,773.3 Z" fill="#5b9bd5"/>
<text x="512.92" y="664.8" font-family="Liberation Sans" font-size="31.5" textLength="83.22" lengthAdjust="spacingAndGlyphs" fill="#000">6 min</text>
<text x="512.92" y="708.1" font-family="Liberation Sans" font-size="31.5" textLength="83.22" lengthAdjust="spacingAndGlyphs" fill="#000">3 min</text>
<text x="513.25" y="752.9" font-family="Liberation Sans" font-size="31.5" textLength="82.89" lengthAdjust="spacingAndGlyphs" fill="#000">1 min</text>
</svg>
</body></html>
